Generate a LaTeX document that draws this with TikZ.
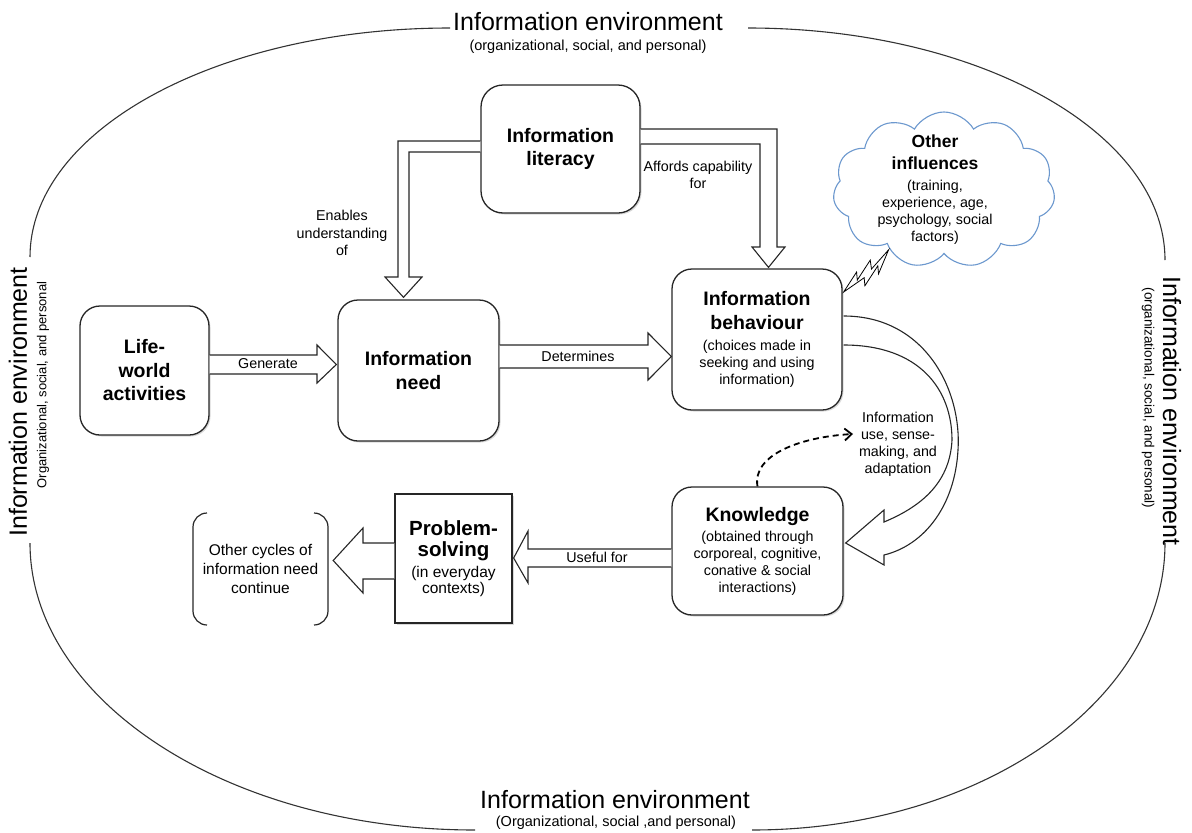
\documentclass[tikz,border=0pt]{standalone}
\usepackage{fontspec}
\setmainfont{Liberation Sans}
\usetikzlibrary{shapes.symbols,arrows.meta,shadows,calc}
\definecolor{cloudblue}{RGB}{108,152,206}
\newcommand{\Ttl}{\fontsize{19.5}{23.5}\selectfont\bfseries}
\newcommand{\Sbt}{\fontsize{14.3}{17}\selectfont}
\newcommand{\Lbl}{\fontsize{14.3}{17.5}\selectfont}
\newcommand{\EnvT}{\fontsize{25}{28}\selectfont}
\newcommand{\EnvS}{\fontsize{14.5}{17}\selectfont}
\begin{document}
\begin{tikzpicture}[x=1pt,y=-1pt,
  box/.style={draw=black!85, line width=1.3pt, rounded corners=20pt, fill=white, align=center, inner sep=0pt,
    drop shadow={shadow xshift=1.5pt, shadow yshift=-1.5pt, opacity=0.3}},
  sqbox/.style={draw=black!85, line width=1.3pt, fill=white, align=center, inner sep=0pt,
    drop shadow={shadow xshift=1.5pt, shadow yshift=-1.5pt, opacity=0.3}},
  blockarrow/.style={draw=black!85, line width=1.1pt, fill=white, line join=miter},
  envline/.style={draw=black!80, line width=1.1pt},
  lbl/.style={font=\Lbl, align=center, inner sep=0pt},
  txt/.style={align=center, inner sep=0pt},
]
\useasboundingbox (0,0) rectangle (1192,833);

% ---- environment boundary (four arcs broken by the labels)
\draw[envline] (450,28) .. controls (218,28) and (30,130) .. (30,257);
\draw[envline] (30,543) .. controls (30,701) and (229,830) .. (475,830);
\draw[envline] (748,28) .. controls (978,28) and (1165,132) .. (1165,260);
\draw[envline] (1165,543) .. controls (1165,701) and (980,830) .. (752,830);

\node[txt, font=\EnvT] (envtop) at (588,22) {Information environment};
\node[txt, font=\EnvS] (envtops) at (588,47) {(organizational, social, and personal)};
\node[txt, font=\EnvT] (envbot) at (615,800) {Information environment};
\node[txt, font=\EnvS] (envbots) at (616,823) {(Organizational, social ,and personal)};
\node[txt, font=\EnvT, rotate=90] (envleft) at (18,402) {Information environment};
\node[txt, font=\fontsize{13}{15}\selectfont, rotate=90] (envlefts) at (43,385) {Organizational, social, and personal};
\node[txt, font=\EnvT, rotate=-90] (envright) at (1172,411) {Information environment};
\node[txt, font=\fontsize{13.5}{15}\selectfont, rotate=-90] (envrights) at (1148,398) {(organizational, social, and personal)};

% ---- boxes
\node[box, font=\Ttl, rounded corners=22pt, minimum width=159pt, minimum height=128pt] (lit) at (560.5,149)
  {Information\\literacy};
\node[box, font=\Ttl, minimum width=129pt, minimum height=129pt] (life) at (144.5,370.5)
  {Life-\\world\\activities};
\node[box, font=\Ttl, minimum width=161pt, minimum height=141pt] (need) at (418.5,370.5)
  {Information\\need};
\node[box, font=\Sbt, minimum width=170pt, minimum height=141pt] (beh) at (757,339.5)
  {\Ttl Information\\[7pt]\Ttl behaviour\\[4pt](choices made in\\seeking and using\\information)};
\node[box, font=\Sbt, minimum width=171pt, minimum height=128pt] (know) at (757.5,551)
  {\Ttl Knowledge\\[3pt](obtained through\\corporeal, cognitive,\\conative \& social\\interactions)};
\node[sqbox, font=\fontsize{15.5}{16}\selectfont, minimum width=117pt, minimum height=129pt] (prob) at (453.5,558.5)
  {\fontsize{20.5}{21.5}\selectfont\bfseries Problem-\\[5pt]\fontsize{20.5}{21.5}\selectfont\bfseries solving\\[5pt](in everyday\\contexts)};

% other cycles (bracket pair)
\node[txt, minimum width=136pt, minimum height=112pt, font=\fontsize{15.5}{19}\selectfont] (other) at (260.5,569)
  {Other cycles of\\information need\\continue};
\draw[line width=1.2pt, draw=black!85, rounded corners=14pt] (207,513) -- (193,513) -- (193,625) -- (207,625);
\draw[line width=1.2pt, draw=black!85, rounded corners=14pt] (314,513) -- (328,513) -- (328,625) -- (314,625);

% cloud
\node[cloud, cloud puffs=11, cloud puff arc=120, draw=cloudblue, line width=1.1pt, fill=white,
  minimum width=222pt, minimum height=156pt, inner sep=0pt] (cloud) at (944,190) {};
\node[txt, font=\Sbt] (cloudtxt) at (935,190)
  {\fontsize{17.5}{21.5}\selectfont\bfseries Other\\[5pt]\fontsize{17.5}{21.5}\selectfont\bfseries influences\\[4pt](training,\\experience, age,\\psychology, social\\factors)};

% ---- block arrows
% Generate
\draw[blockarrow] ($(life.east)+(0,-15.5)$) -- (317,355) -- (317,345) -- ($(need.west)+(-1,-6)$)
  -- (317,383) -- (317,374) -- ($(life.east)+(0,3.5)$);
\node[lbl] (lgen) at (268,364) {Generate};
% Determines
\draw[blockarrow] ($(need.east)+(0,-25.5)$) -- (648,345) -- (648,333) -- ($(beh.west)+(0,17)$)
  -- (648,380) -- (648,368) -- ($(need.east)+(0,-2.5)$);
\node[lbl] (ldet) at (578,356) {Determines};
% Enables understanding of
\draw[blockarrow] ($(lit.west)+(0,-8)$) -- (398,141) -- (398,277) -- (385,277) -- ($(need.north)+(-15,-2)$)
  -- (422,277) -- (409,277) -- (409,152) -- ($(lit.west)+(0,3)$);
\node[lbl] (lenab) at (342,233) {Enables\\understanding\\of};
% Affords capability for
\draw[blockarrow] ($(lit.east)+(0,-20)$) -- (777,129) -- (777,247) -- (785,247) -- ($(beh.north)+(11.5,-1)$)
  -- (752,247) -- (760,247) -- (760,144) -- ($(lit.east)+(0,-5)$);
\node[lbl] (laff) at (698,175) {Affords capability\\for};
% Useful for
\draw[blockarrow] ($(know.west)+(0,-2)$) -- (528,549) -- (528,531) -- ($(prob.east)+(1,-0.5)$)
  -- (528,583) -- (528,567) -- ($(know.west)+(0,16)$);
\node[lbl] (luse) at (597,557) {Useful for};
% Problem-solving -> other cycles
\draw[blockarrow] ($(prob.west)+(0,-15.5)$) -- (363,543) -- (363,528) -- ($(other.east)+(4.5,-8.5)$)
  -- (363,593) -- (363,579) -- ($(prob.west)+(0,20.5)$);

% curved block arrow from behaviour to knowledge
\draw[blockarrow] ($(beh.east)+(1,-23.5)$) .. controls (925,316) and (962,390) .. (958,450)
  .. controls (955,505) and (925,545) .. (884,555) -- (884,565) -- ($(know.east)+(2,-8)$) -- (884,510) -- (884,522)
  .. controls (925,505) and (950,480) .. (952,440) .. controls (952,390) and (920,345) .. ($(beh.east)+(1,5.5)$);

% dashed arrow (information use)
\draw[line width=1.8pt, dashed, dash pattern=on 6pt off 4pt, -{Straight Barb[length=7pt,width=12pt]}]
  (know.north) .. controls (752,455) and (800,437) .. (853,434);
\node[txt, font=\Sbt] (use) at (898,444) {Information\\use, sense-\\making, and\\adaptation};

% lightning bolt from behaviour to cloud
\coordinate (boltA) at ($(beh.east)+(1,-47.5)$);
\begin{scope}[shift={(boltA)}, rotate=34.8]
  \draw[fill=white, line width=0.8pt, line join=miter] (0,0) -- (22,-9) -- (18,-2) -- (40,-11) -- (36,-3) -- (61,-9)
    -- (39,5) -- (43,-2) -- (21,7) -- (25,0) -- cycle;
\end{scope}

\end{tikzpicture}
\end{document}
